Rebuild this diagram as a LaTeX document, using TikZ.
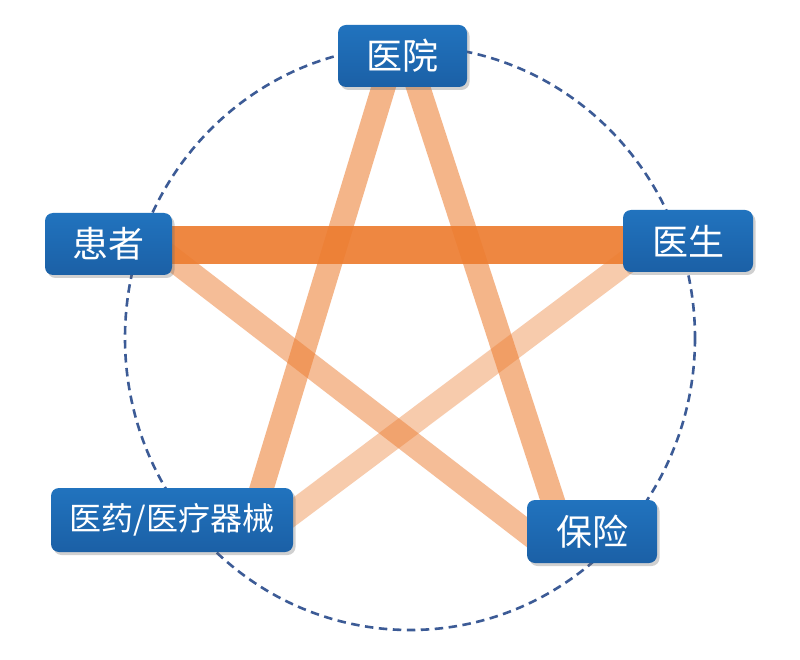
\documentclass[tikz,border=0pt]{standalone}
\usepackage{fontspec}
\newfontfamily\cjk{Noto Sans CJK SC}
\usetikzlibrary{calc,shadows}
\definecolor{boxtop}{HTML}{2173BE}
\definecolor{boxbot}{HTML}{1B60A6}
\definecolor{orng}{HTML}{ED7D31}
\definecolor{ringc}{HTML}{3C5B96}
\tikzset{
  labelbox/.style={rounded corners=8pt, top color=boxtop, bottom color=boxbot,
    text=white, inner sep=0pt, font=\cjk\fontsize{36}{36}\selectfont,
    minimum height=62pt,
    drop shadow={shadow xshift=2.5pt, shadow yshift=-3pt, opacity=0.3, fill=black!60}},
  thinlink/.style={draw=orng, line width=24pt, line cap=butt},
  thicklink/.style={draw=orng, line width=38pt, line cap=butt, opacity=0.92},
  ring/.style={draw=ringc, line width=2.6pt, dash pattern=on 8.5pt off 5.5pt}
}
\begin{document}
\begin{tikzpicture}[x=1pt,y=-1pt]
\useasboundingbox (0,0) rectangle (800,660);
\fill[white] (0,0) rectangle (800,660);
% dashed ring
\draw[ring] (410,338) ellipse [x radius=285, y radius=292];
% node positions (boxes drawn last)
\coordinate (cA) at (402.5,56);
\coordinate (cB) at (108.5,244);
\coordinate (cC) at (688,241);
\coordinate (cD) at (172,520);
\coordinate (cE) at (592,531.5);
% links
\draw[thinlink, draw opacity=0.57] ($(cA)+(-9.5,0)$) -- ($(cD)+(80,0)$);
\draw[thinlink, draw opacity=0.57] ($(cA)+(5.5,0)$) -- ($(cE)+(-29,0.5)$);
\draw[thinlink, draw opacity=0.5] ($(cB)+(31.5,-10)$) -- ($(cE)+(-47,14.5)$);
\draw[thinlink, draw opacity=0.4] ($(cC)+(-28,-4)$) -- ($(cD)+(98,10)$);
\draw[thicklink] ($(cB)+(0,1)$) -- ($(cC)+(0,4)$);
% boxes
\node[labelbox, minimum width=129pt] (yiyuan) at (cA) {医院};
\node[labelbox, minimum width=127pt] (huanzhe) at (cB) {患者};
\node[labelbox, minimum width=130pt] (yisheng) at (cC) {医生};
\node[labelbox, minimum width=242pt, minimum height=64pt, font=\cjk\fontsize{32}{32}\selectfont] (yiyao) at (cD) {医药/医疗器械};
\node[labelbox, minimum width=130pt, minimum height=63pt] (baoxian) at (cE) {保险};
\end{tikzpicture}
\end{document}
